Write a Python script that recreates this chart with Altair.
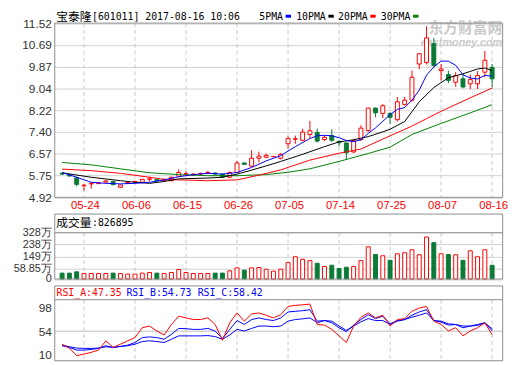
import altair as alt
import pandas as pd

# ---------------- data ----------------
OPEN = [5.83, 5.77, 5.66, 5.36, 5.43, 5.44, 5.50, 5.52, 5.30, 5.45,
        5.50, 5.49, 5.60, 5.60, 5.55, 5.55, 5.72, 5.80, 5.76, 5.80,
        5.83, 5.84, 5.80, 5.68, 5.86, 6.22, 6.10, 6.40, 6.44, 6.46,
        6.40, 6.95, 7.12, 7.08, 7.30, 7.38, 7.11, 7.26, 7.04, 6.98,
        6.64, 7.11, 7.45, 8.30, 8.10, 8.10, 7.86, 8.44, 8.60, 9.97,
        10.03, 10.74, 9.72, 9.57, 9.28, 9.41, 9.22, 9.22, 9.66, 9.84]
HIGH = [5.86, 5.80, 5.70, 5.42, 5.50, 5.48, 5.57, 5.53, 5.40, 5.50,
        5.55, 5.62, 5.70, 5.62, 5.62, 5.70, 5.98, 5.90, 5.84, 5.86,
        5.92, 5.86, 5.82, 5.90, 6.30, 6.24, 6.70, 6.65, 6.58, 6.48,
        6.60, 7.23, 7.26, 7.52, 7.82, 7.52, 7.27, 7.50, 7.07, 7.00,
        7.10, 7.65, 8.32, 8.32, 8.45, 8.14, 8.72, 8.72, 9.72, 10.38,
        11.40, 10.96, 9.97, 9.72, 9.66, 9.58, 9.57, 9.70, 10.46, 9.97]
LOW = [5.77, 5.70, 5.33, 5.17, 5.25, 5.42, 5.47, 5.38, 5.28, 5.43,
       5.48, 5.47, 5.52, 5.52, 5.53, 5.53, 5.70, 5.74, 5.74, 5.76,
       5.80, 5.78, 5.66, 5.64, 5.84, 6.15, 6.08, 6.24, 6.40, 6.44,
       6.35, 6.77, 6.95, 7.05, 7.17, 7.00, 7.05, 7.02, 6.85, 6.36,
       6.60, 7.05, 7.40, 7.95, 7.92, 7.69, 7.80, 8.40, 8.55, 9.77,
       9.95, 9.85, 9.35, 9.25, 9.11, 9.05, 9.02, 9.02, 9.47, 9.10]
CLOSE = [5.80, 5.73, 5.41, 5.38, 5.45, 5.46, 5.54, 5.40, 5.39, 5.48,
         5.52, 5.60, 5.62, 5.55, 5.60, 5.68, 5.86, 5.82, 5.80, 5.82,
         5.86, 5.80, 5.68, 5.86, 6.22, 6.17, 6.40, 6.48, 6.51, 6.47,
         6.55, 7.15, 7.14, 7.39, 7.44, 7.05, 7.19, 7.08, 6.99, 6.61,
         7.07, 7.54, 8.30, 8.12, 8.39, 7.95, 8.54, 8.60, 9.47, 10.36,
         10.96, 9.92, 9.78, 9.35, 9.53, 9.10, 9.38, 9.53, 10.11, 9.41]
# volume in 万
VOLUME = [24.3, 24.3, 34.1, 21.8, 21.5, 21.5, 21.5, 24.3, 21.5, 16.9,
          16.9, 24.3, 28.9, 24.3, 21.5, 28.9, 51.2, 28.9, 21.5, 21.5,
          21.5, 24.3, 24.3, 41.4, 63.5, 46.3, 63.5, 66.0, 53.3, 39.0,
          53.3, 102.7, 146.6, 127.6, 117.5, 97.9, 73.5, 83.0, 58.6, 68.2,
          73.5, 117.5, 220.6, 163.6, 154.1, 120.1, 168.9, 176.3, 198.6, 161.5,
          294.1, 252.2, 168.9, 163.6, 161.5, 120.1, 191.2, 146.6, 198.6, 82.7]

MA5_IDX = [0, 2, 4, 6, 8, 10, 12, 14, 16, 18, 20, 22, 24, 26, 28, 30, 32, 34, 35, 36,
           37, 38, 39, 40, 41, 42, 43, 44, 45, 46, 47, 48, 49, 50, 51, 52, 53, 54, 55, 56,
           57, 58, 59]
MA5_VAL = [5.86, 5.68, 5.49, 5.45, 5.43, 5.45, 5.49, 5.58, 5.70, 5.78, 5.83, 5.80, 5.86, 6.05,
           6.30, 6.50, 6.84, 7.15, 7.25, 7.27, 7.25, 7.18, 7.07, 7.03, 7.10, 7.34, 7.55, 7.80,
           8.05, 8.25, 8.32, 8.60, 8.98, 9.55, 9.86, 10.08, 10.08, 9.92, 9.56, 9.44, 9.40,
           9.54, 9.51]
MA10_IDX = [0, 4, 8, 10, 12, 14, 16, 20, 22, 24, 26, 28, 30, 33, 36, 38, 40, 42, 44, 45,
            47, 49, 51, 53, 55, 57, 58, 59]
MA10_VAL = [5.85, 5.68, 5.55, 5.49, 5.45, 5.52, 5.62, 5.65, 5.68, 5.80, 5.95, 6.11, 6.28,
            6.55, 6.84, 7.02, 7.10, 7.22, 7.40, 7.50, 7.79, 8.54, 9.08, 9.45, 9.60, 9.78,
            9.82, 9.72]
MA20_IDX = [0, 4, 8, 12, 14, 16, 20, 24, 27, 30, 34, 38, 41, 45, 48, 52, 56, 59]
MA20_VAL = [5.99, 5.93, 5.83, 5.68, 5.60, 5.58, 5.55, 5.58, 5.76, 5.96, 6.33, 6.59, 6.75,
            7.25, 7.62, 8.18, 8.69, 9.06]
MA30_IDX = [0, 4, 8, 12, 16, 20, 24, 28, 31, 34, 38, 42, 45, 48, 52, 56, 59]
MA30_VAL = [6.24, 6.15, 6.00, 5.85, 5.78, 5.74, 5.74, 5.78, 5.87, 6.00, 6.28, 6.58, 6.82,
            7.30, 7.72, 8.12, 8.43]

RSI_A = [29.6, 22.2, 8.1, 11.1, 14.3, 18.5, 35.9, 23.5, 29.6, 35.9,
         42.0, 60.5, 63.7, 54.4, 47.0, 66.6, 82.2, 79.0, 75.9, 75.9,
         79.0, 66.6, 37.0, 69.8, 88.3, 72.9, 86.4, 88.3, 84.0, 79.0,
         85.0, 100.6, 102.5, 103.6, 104.9, 66.6, 65.5, 57.4, 45.2, 32.8,
         63.7, 80.3, 88.3, 79.0, 84.0, 63.7, 75.9, 77.7, 91.4, 97.5,
         100.6, 72.9, 66.6, 54.4, 60.5, 45.2, 54.4, 60.5, 69.8, 47.35]
RSI_B = [26.7, 23.5, 18.5, 18.5, 19.8, 21.7, 26.7, 23.5, 25.4, 27.8,
         32.8, 42.0, 43.3, 42.0, 38.9, 48.1, 59.2, 58.7, 57.4, 57.4,
         59.2, 54.4, 40.2, 57.4, 74.0, 66.6, 75.9, 79.0, 75.9, 74.0,
         79.0, 90.1, 91.4, 92.5, 94.4, 72.9, 74.0, 69.8, 60.5, 53.1,
         65.5, 75.9, 85.0, 77.7, 82.2, 67.9, 74.0, 75.9, 84.0, 90.1,
         94.4, 74.0, 71.0, 65.5, 66.6, 60.5, 63.7, 66.6, 69.8, 54.73]
RSI_C = [27.8, 24.8, 22.2, 21.7, 21.7, 22.2, 24.8, 23.5, 25.4, 26.7,
         29.6, 34.6, 35.9, 34.6, 32.8, 38.9, 45.2, 45.2, 45.2, 45.2,
         45.8, 43.9, 38.9, 47.0, 57.4, 54.4, 59.2, 63.7, 63.7, 62.4,
         63.7, 72.9, 75.9, 77.2, 79.0, 69.8, 74.0, 72.9, 63.7, 55.5,
         63.7, 71.6, 77.7, 74.0, 74.0, 66.6, 72.9, 75.9, 80.3, 84.0,
         88.3, 74.0, 72.9, 67.9, 66.6, 63.7, 63.7, 64.8, 69.8, 58.42]

DATE_IDX = [3, 10, 17, 24, 31, 38, 45, 52, 59]
DATE_LABELS = ["05-24", "06-06", "06-15", "06-26", "07-05", "07-14", "07-25", "08-07", "08-16"]
PRICE_TICKS = [4.92, 5.75, 6.57, 7.40, 8.22, 9.04, 9.87, 10.69, 11.52]
VOL_FLOOR = -19.9          # bottom edge of the volume pane (labelled "0")
VOL_TICKS = [VOL_FLOOR, 58.85, 149, 238, 328]
RSI_TICKS = [10, 54, 98]

STOCK_NAME = "宝泰隆"
STOCK_INFO = "[601011] 2017-08-16 10:06"
VOL_TITLE = "成交量"
VOL_LAST = ":826895"
RSI_TEXTS = ["RSI_A:47.35", "RSI_B:54.73", "RSI_C:58.42"]
MA_NAMES = ["5PMA", "10PMA", "20PMA", "30PMA"]

# ---------------- styling ----------------
RED = "#ff0000"
GREEN = "#0b7a36"
MAGREEN = "#008000"
BLUE = "#0000ff"
BLACK = "#000000"
GRID = "#d2d2d2"
VGRID = "#c8c8c8"
FRAME = "#8c8c8c"
LABEL = "#333333"
LFONT = "Liberation Sans"
MONO = "DejaVu Sans Mono"
CJK = "Noto Sans CJK SC"

W, H = 455, 357

df = pd.DataFrame({"idx": list(range(len(OPEN))), "open": OPEN, "high": HIGH,
                   "low": LOW, "close": CLOSE, "vol": VOLUME,
                   "rsi_a": RSI_A, "rsi_b": RSI_B, "rsi_c": RSI_C})
df["dir"] = ["up" if c >= o else "down" for o, c in zip(OPEN, CLOSE)]
dates = pd.DataFrame({"idx": DATE_IDX, "label": DATE_LABELS})
ONE = pd.DataFrame({"k": [0]})

xs = alt.Scale(domain=[-0.4, 59.7], nice=False, zero=False)
X = alt.X("idx:Q", scale=xs, axis=None)
ys_p = alt.Scale(domain=[4.92, 11.52], range=[189.5, 12.5], nice=False, zero=False)
ys_v = alt.Scale(domain=[VOL_FLOOR, 328], range=[272.5, 225.2], nice=False, zero=False)
ys_r = alt.Scale(domain=[10, 98], range=[349.3, 301.7], nice=False, zero=False)
fill_s = alt.Scale(domain=["up", "down"], range=["#ffffff", GREEN])
stroke_s = alt.Scale(domain=["up", "down"], range=[RED, GREEN])


def yaxis(values, size=12, **kw):
    return alt.Axis(values=values, orient="left", domain=False, ticks=False,
                    labelPadding=3, labelFont=LFONT, labelFontSize=size,
                    labelColor=LABEL, labelOverlap=False, title=None, **kw)


def text(s, x, y, size, font, color, align="left", weight="normal", style="normal"):
    return alt.Chart(ONE).mark_text(
        text=s, align=align, baseline="middle", font=font, fontSize=size,
        color=color, fontWeight=weight, fontStyle=style
    ).encode(x=alt.value(x), y=alt.value(y))


def hline(y, color, x1=0.5, x2=455.5, width=1):
    return alt.Chart(ONE).mark_rule(color=color, strokeWidth=width).encode(
        x=alt.value(x1), x2=alt.value(x2), y=alt.value(y))


def frame(y1, y2):
    return alt.Chart(ONE).mark_rect(filled=False, stroke=FRAME, strokeWidth=1).encode(
        x=alt.value(0.5), x2=alt.value(455.5), y=alt.value(y1), y2=alt.value(y2))


def vgrid(y1, y2):
    return alt.Chart(dates).mark_rule(color=VGRID, strokeDash=[4, 3], strokeWidth=1).encode(
        x=X, y=alt.value(y1), y2=alt.value(y2))


def ma_line(idx, val, color):
    d = pd.DataFrame({"idx": idx, "v": val})
    return alt.Chart(d).mark_line(color=color, strokeWidth=1).encode(
        x=X, y=alt.Y("v:Q", scale=ys_p, axis=None))


def rsi_line(col, color, axis=None):
    return alt.Chart(df).mark_line(color=color, strokeWidth=1).encode(
        x=X, y=alt.Y(f"{col}:Q", scale=ys_r, axis=axis))


# ---------------- price pane ----------------
wick = alt.Chart(df).mark_rule(strokeWidth=1).encode(
    x=X,
    y=alt.Y("low:Q", scale=ys_p,
            axis=yaxis(PRICE_TICKS, format=".2f", grid=True, gridColor=GRID, gridWidth=1)),
    y2="high:Q",
    stroke=alt.Stroke("dir:N", scale=stroke_s, legend=None))
body = alt.Chart(df).mark_bar(size=4, strokeWidth=1).encode(
    x=X, y=alt.Y("open:Q", scale=ys_p, axis=None), y2="close:Q",
    fill=alt.Fill("dir:N", scale=fill_s, legend=None),
    stroke=alt.Stroke("dir:N", scale=stroke_s, legend=None))

# ---------------- volume pane ----------------
vol = alt.Chart(df).mark_bar(size=4, strokeWidth=1).encode(
    x=X,
    y=alt.Y("vol:Q", scale=ys_v,
            axis=yaxis(VOL_TICKS, size=11, grid=True, gridColor=GRID, gridWidth=1,
                       labelExpr="datum.value < 0 ? '0' : datum.value + '万'")),
    y2=alt.datum(VOL_FLOOR),
    fill=alt.Fill("dir:N", scale=fill_s, legend=None),
    stroke=alt.Stroke("dir:N", scale=stroke_s, legend=None))

# ---------------- RSI pane ----------------
rsi_rule = alt.Chart(ONE).mark_rule(color="#bdbdbd", strokeWidth=1).encode(
    x=alt.value(0.5), x2=alt.value(455.5),
    y=alt.datum(54, scale=ys_r, axis=None))

# ---------------- decorations ----------------
date_text = alt.Chart(dates).mark_text(
    font=LFONT, fontSize=11.5, color=RED, baseline="middle", dx=1.5
).encode(x=X, y=alt.value(198), text="label:N")

legend_parts = []
leg_x = [208.3, 245.7, 288.3, 331.7]
dash_x = [235, 278.5, 321, 364.5]
for name, lx, dx_, col in zip(MA_NAMES, leg_x, dash_x, [BLUE, BLACK, RED, MAGREEN]):
    legend_parts.append(text(name, lx, 6, 10, MONO, BLACK))
    legend_parts.append(hline(5.5, col, dx_, dx_ + 5.5, 3))

watermark = [
    text("东方财富网", 455, 18, 15, CJK, "#cacaca", align="right", weight="bold"),
    text("eastmoney.com", 455, 33, 11, LFONT, "#cacaca", align="right", weight="bold",
         style="italic"),
]

layers = [
    vgrid(12.5, 189.5), vgrid(225.5, 272.5), vgrid(293.5, 355.5),
    *watermark,
    wick, body,
    ma_line(MA30_IDX, MA30_VAL, MAGREEN),
    ma_line(MA20_IDX, MA20_VAL, RED),
    ma_line(MA10_IDX, MA10_VAL, BLACK),
    ma_line(MA5_IDX, MA5_VAL, BLUE),
    vol,
    rsi_rule,
    rsi_line("rsi_c", BLUE),
    rsi_line("rsi_b", BLUE),
    rsi_line("rsi_a", RED, axis=yaxis(RSI_TICKS, grid=False)),
    frame(12.5, 189.5), frame(206.5, 272.5), frame(279.5, 355.5),
    hline(225.5, FRAME), hline(293.5, FRAME),
    date_text,
    text(STOCK_NAME, 2, 6.5, 12, CJK, BLACK),
    text(STOCK_INFO, 38.3, 6.5, 10, MONO, BLACK),
    *legend_parts,
    text(VOL_TITLE, 2, 215.5, 12, CJK, BLACK),
    text(VOL_LAST, 38.3, 215.5, 10, MONO, BLACK),
    text(RSI_TEXTS[0], 2.3, 286.5, 10, MONO, RED),
    text(RSI_TEXTS[1], 73.3, 286.5, 10, MONO, BLUE),
    text(RSI_TEXTS[2], 145.7, 286.5, 10, MONO, BLUE),
]

chart = alt.layer(*layers).resolve_scale(y="independent").properties(
    width=W, height=H,
    autosize=alt.AutoSizeParams(type="none"),
    padding={"left": 47, "top": 0, "right": 10, "bottom": 0},
    background="white",
).configure_view(stroke=None)

chart.save("out.html", embed_options={"renderer": "svg", "actions": False})
